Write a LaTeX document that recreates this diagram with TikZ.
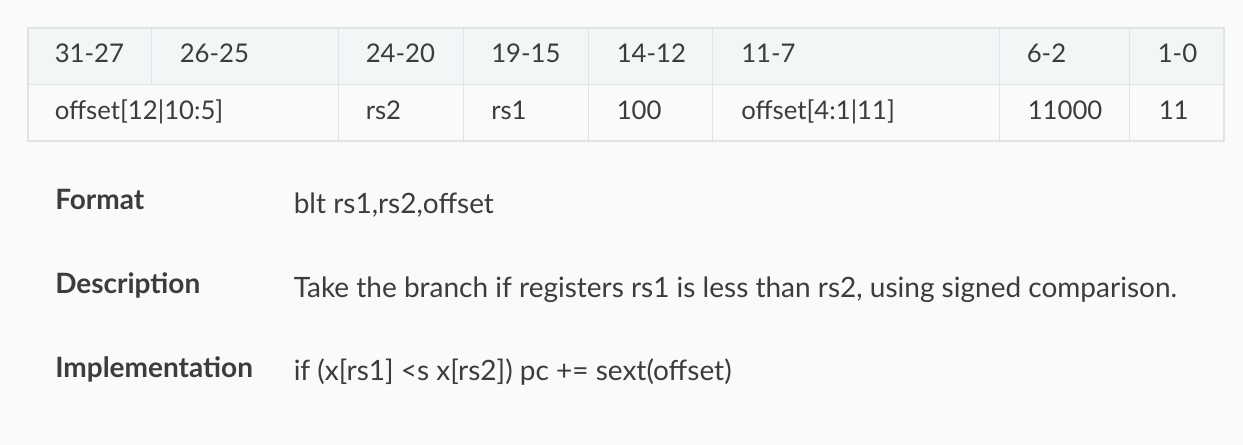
\documentclass[tikz,border=0pt]{standalone}
\usepackage{fontspec}
\setmainfont{Lato}
\definecolor{bg}{RGB}{250,250,250}
\definecolor{hdr}{RGB}{243,246,247}
\definecolor{gridc}{RGB}{224,227,229}
\definecolor{ink}{RGB}{60,60,60}
\begin{document}
\begin{tikzpicture}[x=0.75pt,y=-0.75pt,
  txt/.style={anchor=base west, inner sep=0pt, text=ink, font=\fontsize{19.3pt}{23pt}\selectfont},
  body/.style={anchor=base west, inner sep=0pt, text=ink, font=\fontsize{21pt}{25pt}\selectfont},
  lbl/.style={anchor=base west, inner sep=0pt, text=ink, font=\fontsize{21pt}{25pt}\selectfont\bfseries},
  gridline/.style={draw=gridc, line width=0.9pt}]
\fill[bg] (0,0) rectangle (1243,445);
\useasboundingbox (0,0) rectangle (1243,445);
% table
\fill[hdr] (28,28) rectangle (1224,84.5);
\draw[gridline] (28,28) rectangle (1224,141);
\draw[gridline] (28,84.5) -- (1224,84.5);
\draw[gridline] (151.5,28) -- (151.5,84.5);
\foreach \cx in {338.5,463.3,588.3,712.3,999.3,1129.3}
  \draw[gridline] (\cx,28) -- (\cx,141);
% header
\node[txt] (h1) at (54.5,62.5) {31-27};
\node[txt] (h2) at (179.5,62.5) {26-25};
\node[txt] (h3) at (365.5,62.5) {24-20};
\node[txt] (h4) at (491,62.5) {19-15};
\node[txt] (h5) at (616.5,62.5) {14-12};
\node[txt] (h6) at (741,62.5) {11-7};
\node[txt] (h7) at (1026.5,62.5) {6-2};
\node[txt] (h8) at (1157.5,62.5) {1-0};
% values
\node[txt] (v1) at (54.5,119.5) {offset[12|10:5]};
\node[txt] (v2) at (365.5,119.5) {rs2};
\node[txt] (v3) at (491,119.5) {rs1};
\node[txt] (v4) at (616.5,119.5) {100};
\node[txt] (v5) at (741,119.5) {offset[4:1|11]};
\node[txt] (v6) at (1027.5,119.5) {11000};
\node[txt] (v7) at (1158.5,119.5) {11};
% description
\node[lbl] (fmt) at (55,210) {Format};
\node[body] (fmtv) at (293.5,213.5) {blt rs1,rs2,offset};
\node[lbl] (dsc) at (55,294) {Description};
\node[body] (dscv) at (293.5,297.5) {Take the branch if registers rs1 is less than rs2, using signed comparison.};
\node[lbl] (imp) at (55,377.5) {Implementation};
\node[body] (impv) at (293.5,381) {if (x[rs1] <s x[rs2]) pc += sext(offset)};
\end{tikzpicture}
\end{document}
